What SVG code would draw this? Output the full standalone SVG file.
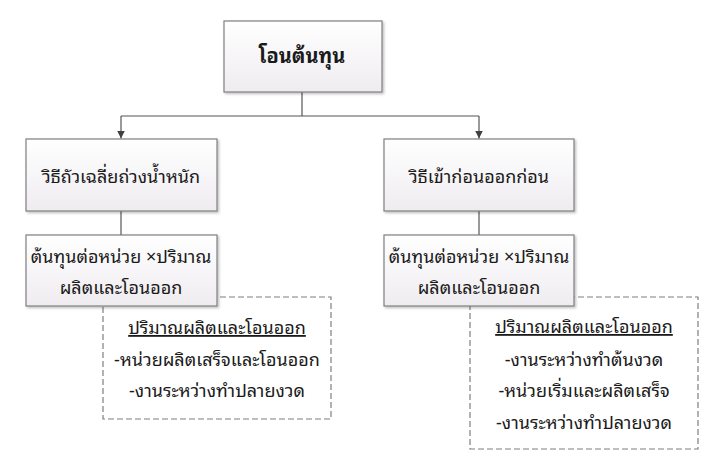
<svg xmlns="http://www.w3.org/2000/svg" width="713" height="466" viewBox="0 0 713 466">
<defs>
<linearGradient id="g" x1="0" y1="0" x2="0" y2="1">
<stop offset="0" stop-color="#ffffff"/>
<stop offset="1" stop-color="#efecf0"/>
</linearGradient>
<marker id="arr" markerWidth="8" markerHeight="8" refX="8" refY="4" orient="auto" markerUnits="userSpaceOnUse">
<path d="M0,0 L8,4 L0,8 z" fill="#404040"/>
</marker>
<filter id="sh" x="-5%" y="-5%" width="115%" height="115%">
<feDropShadow dx="1.5" dy="1.5" stdDeviation="1" flood-color="#000" flood-opacity="0.25"/>
</filter>
</defs>
<style>
.box{fill:url(#g);stroke:#7f7f7f;stroke-width:1.2;filter:url(#sh)}
.dash{fill:none;stroke:#7f7f7f;stroke-width:1.2;stroke-dasharray:6 3}
.t{font-family:"Noto Sans Thai Looped","Garuda","Loma","Kinnari","Norasi","Noto Sans Thai",sans-serif;fill:#1a1a1a;text-anchor:middle}
.n{font-size:18px}
.c{fill:none;stroke:#555;stroke-width:1.2}
</style>
<g id="connectors">
<path class="c" d="M302,92 V116"/>
<path class="c" d="M121,116 H479"/>
<path class="c" d="M121,116 V138.5" marker-end="url(#arr)"/>
<path class="c" d="M479,116 V138.5" marker-end="url(#arr)"/>
<path class="c" d="M121,211 V235"/>
<path class="c" d="M479,211 V235"/>
</g>
<g id="note-left">
<rect class="dash" x="103" y="297" width="228" height="122"/>
<text class="t n" x="217" y="334" text-decoration="underline">ปริมาณผลิตและโอนออก</text>
<text class="t n" x="217" y="366">-หน่วยผลิตเสร็จและโอนออก</text>
<text class="t n" x="217" y="397">-งานระหว่างทำปลายงวด</text>
</g>
<g id="note-right">
<rect class="dash" x="470" y="297" width="228" height="152"/>
<text class="t n" x="584" y="333" text-decoration="underline">ปริมาณผลิตและโอนออก</text>
<text class="t n" x="584" y="366">-งานระหว่างทำต้นงวด</text>
<text class="t n" x="584" y="397">-หน่วยเริ่มและผลิตเสร็จ</text>
<text class="t n" x="584" y="429">-งานระหว่างทำปลายงวด</text>
</g>
<g id="root">
<rect class="box" x="224" y="21" width="158" height="71"/>
<text class="t" x="302" y="63" font-size="20" font-weight="bold">โอนต้นทุน</text>
</g>
<g id="method-weighted">
<rect class="box" x="26" y="139" width="191" height="72"/>
<text class="t" x="121" y="183" font-size="18">วิธีถัวเฉลี่ยถ่วงน้ำหนัก</text>
</g>
<g id="method-fifo">
<rect class="box" x="384" y="139" width="190" height="72"/>
<text class="t" x="479" y="183" font-size="18">วิธีเข้าก่อนออกก่อน</text>
</g>
<g id="calc-weighted">
<rect class="box" x="26" y="235" width="191" height="71"/>
<text class="t" x="121" y="263" font-size="18">ต้นทุนต่อหน่วย ×ปริมาณ</text>
<text class="t" x="121" y="294" font-size="18">ผลิตและโอนออก</text>
</g>
<g id="calc-fifo">
<rect class="box" x="384" y="235" width="190" height="71"/>
<text class="t" x="479" y="263" font-size="18">ต้นทุนต่อหน่วย ×ปริมาณ</text>
<text class="t" x="479" y="294" font-size="18">ผลิตและโอนออก</text>
</g>
</svg>
